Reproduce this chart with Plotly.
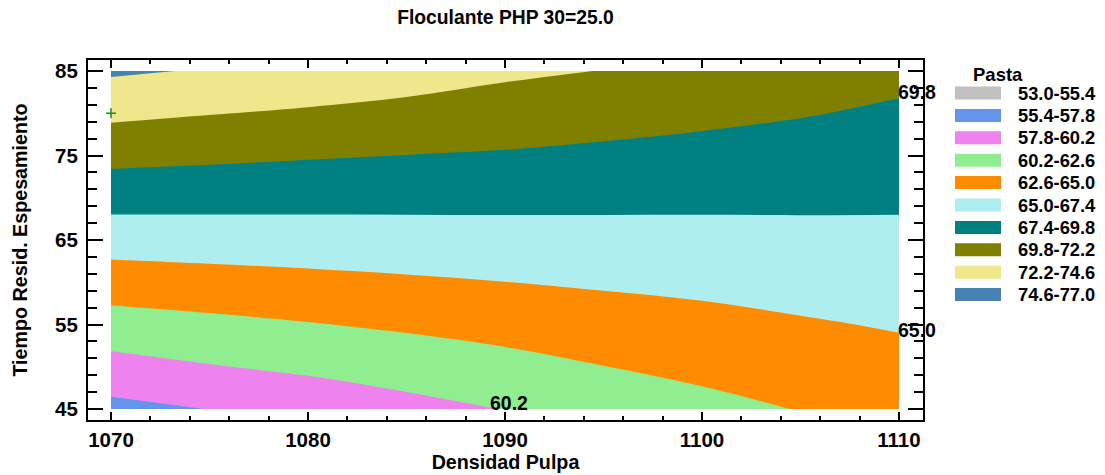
import plotly.graph_objects as go

# ---------------- data ----------------
dens = [1070, 1075, 1080, 1085, 1090, 1095, 1100, 1105, 1110]          # Densidad Pulpa
tiempo = [45, 50, 55, 60, 65, 70, 75, 80, 85]                           # Tiempo Resid. Espesamiento
# Pasta values: one row per tiempo value, one column per dens value
pasta = [
    [57.15, 57.84, 58.49, 59.51, 60.26, 61.22, 61.96, 62.68, 63.46],
    [59.39, 60.07, 60.67, 61.23, 61.86, 62.57, 63.15, 63.74, 64.31],
    [61.60, 62.05, 62.49, 62.95, 63.44, 63.92, 64.33, 64.79, 65.17],
    [63.79, 64.09, 64.39, 64.69, 64.98, 65.27, 65.52, 65.80, 66.03],
    [66.03, 66.16, 66.28, 66.39, 66.49, 66.60, 66.69, 66.80, 66.89],
    [68.29, 68.21, 68.14, 68.08, 68.03, 67.95, 67.88, 67.82, 67.74],
    [70.50, 70.25, 69.99, 69.77, 69.60, 69.33, 69.08, 68.89, 68.58],
    [72.69, 72.29, 71.90, 71.48, 71.10, 70.73, 70.33, 69.92, 69.50],
    [74.91, 74.43, 73.97, 73.36, 72.60, 72.15, 71.67, 71.10, 70.35],
]
band_labels = ["53.0-55.4", "55.4-57.8", "57.8-60.2", "60.2-62.6", "62.6-65.0",
               "65.0-67.4", "67.4-69.8", "69.8-72.2", "72.2-74.6", "74.6-77.0"]
band_colors = ["#C0C0C0", "#6495ED", "#EE82EE", "#90EE90", "#FF8C00",
               "#AFEEEE", "#008080", "#808000", "#F0E68C", "#4682B4"]
level_start, level_end, level_size = 55.4, 74.6, 2.4
# contour labels shown on the chart: text, x, y
contour_labels = [("69.8", 1110, 82.5), ("65.0", 1110, 54.4), ("60.2", 1090.2, 45.7)]
design_x = [1070]
design_y = [80]

title_text = "Floculante PHP 30=25.0"
x_title = "Densidad Pulpa"
y_title = "Tiempo Resid. Espesamiento"
legend_title = "Pasta"

FONT = "Liberation Sans, Arial, sans-serif"

# ---------------- layout helpers (pixel -> paper) ----------------
W, H = 1105, 475
ML, MR, MT, MB = 88, 182, 60, 55
PW, PH = W - ML - MR, H - MT - MB


def pxx(p):
    return (p - ML) / PW


def pxy(p):
    return 1 - (p - MT) / PH


n = len(band_colors)
colorscale = [[i / (n - 1), c] for i, c in enumerate(band_colors)]

fig = go.Figure()
fig.add_trace(go.Contour(
    x=dens, y=tiempo, z=pasta,
    autocontour=False,
    contours=dict(start=level_start, end=level_end, size=level_size,
                  coloring="fill", showlines=False),
    colorscale=colorscale, showscale=False,
    line=dict(width=0),
    hoverinfo="skip",
))
fig.add_trace(go.Scatter(
    x=design_x, y=design_y, mode="markers",
    marker=dict(symbol="cross-thin", size=7, color="#1E8B1E",
                line=dict(color="#1E8B1E", width=1.5)),
    showlegend=False, hoverinfo="skip",
))

shapes = []
annotations = []
# legend built from the band lists
annotations.append(dict(text=f"<b>{legend_title}</b>", xref="paper", yref="paper",
                        x=pxx(998), y=pxy(75), xanchor="center", yanchor="middle",
                        showarrow=False, font=dict(family=FONT, size=18.5, color="black")))
for k, (lab, col) in enumerate(zip(band_labels, band_colors)):
    cy = 93 + 22.4 * k
    shapes.append(dict(type="rect", xref="paper", yref="paper",
                       x0=pxx(955), x1=pxx(1001), y0=pxy(cy + 6.5), y1=pxy(cy - 6.5),
                       fillcolor=col, line=dict(width=0), layer="above"))
    annotations.append(dict(text=f"<b>{lab}</b>", xref="paper", yref="paper",
                            x=pxx(1016), y=pxy(cy), xanchor="left", yanchor="middle",
                            showarrow=False, font=dict(family=FONT, size=18.3, color="black")))

for txt, lx, ly in contour_labels:
    annotations.append(dict(text=f"<b>{txt}</b>", x=lx, y=ly, xref="x", yref="y",
                            xanchor="left" if lx >= 1110 else "center", yanchor="middle",
                            xshift=-3 if lx >= 1110 else 0,
                            showarrow=False, font=dict(family=FONT, size=19.5, color="black")))

x_px_per_unit = (899 - 111) / 40
y_px_per_unit = (409 - 71) / 40
xr = [1070 - (111 - ML) / x_px_per_unit, 1110 + (W - MR - 899) / x_px_per_unit]
yr = [45 - (H - MB - 409) / y_px_per_unit, 85 + (71 - MT) / y_px_per_unit]

axis_common = dict(
    showline=True, linewidth=2, linecolor="black", mirror="ticks",
    ticks="inside", tickcolor="black", showgrid=False, zeroline=False,
    tickfont=dict(family=FONT, size=20.5, color="black", weight="bold"),
    automargin=False,
)

fig.update_layout(
    width=W, height=H,
    margin=dict(l=ML, r=MR, t=MT, b=MB),
    paper_bgcolor="white", plot_bgcolor="white",
    showlegend=False,
    title=dict(text=f"<b>{title_text}</b>", x=0.5, xref="paper", y=1 - 17 / H,
               yref="container", xanchor="center", yanchor="middle",
               font=dict(family=FONT, size=19.3, color="black")),
    xaxis=dict(range=xr, tick0=1070, dtick=10, ticklen=8, tickwidth=2,
               minor=dict(tick0=1070, dtick=2, ticklen=4, tickwidth=1.5, ticks="inside",
                          tickcolor="black"),
               title=dict(text=f"<b>{x_title}</b>", standoff=4,
                          font=dict(family=FONT, size=19.7, color="black")),
               ticklabelstandoff=0,
               **axis_common),
    yaxis=dict(range=yr, tick0=45, dtick=10, ticklen=15, tickwidth=2,
               minor=dict(tick0=45, dtick=2, ticklen=9, tickwidth=1.5, ticks="inside",
                          tickcolor="black"),
               title=dict(text=f"<b>{y_title}</b>", standoff=22,
                          font=dict(family=FONT, size=19.7, color="black")),
               ticklabelstandoff=4,
               **axis_common),
    shapes=shapes,
    annotations=annotations,
)

fig.write_html("out.html", config={"displayModeBar": False},
               post_script="document.body.style.margin='0';")
